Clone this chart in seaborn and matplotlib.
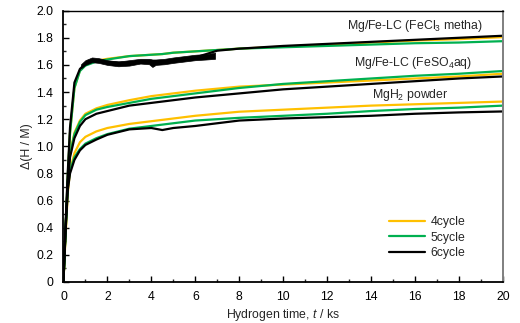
import numpy as np
import pandas as pd
import matplotlib
matplotlib.use("Agg")
import matplotlib.pyplot as plt
from matplotlib.ticker import MultipleLocator, FuncFormatter
import seaborn as sns

# Hydrogenation time grid (ks)
t = [0, 0.1, 0.2, 0.3, 0.5, 0.75, 1, 1.5, 2, 3, 4, 4.5, 5, 6, 7, 8, 10, 12, 14, 16, 18, 20]

# Mg/Fe-LC (FeCl3 metha)
fecl3_4 = [0, 0.40, 0.78, 1.10, 1.43, 1.56, 1.60, 1.63, 1.645, 1.665, 1.675, 1.68, 1.69, 1.70, 1.71, 1.72, 1.735, 1.75, 1.765, 1.78, 1.79, 1.805]
fecl3_5 = [0, 0.41, 0.79, 1.10, 1.43, 1.555, 1.595, 1.625, 1.64, 1.665, 1.675, 1.68, 1.69, 1.70, 1.71, 1.72, 1.73, 1.74, 1.75, 1.76, 1.765, 1.775]
fecl3_6 = [0, 0.44, 0.82, 1.14, 1.47, 1.57, 1.61, 1.635, 1.62, 1.615, 1.62, 1.625, 1.635, 1.655, 1.705, 1.72, 1.74, 1.755, 1.77, 1.785, 1.80, 1.815]

# Mg/Fe-LC (FeSO4aq)
feso4_4 = [0, 0.40, 0.74, 0.95, 1.10, 1.19, 1.24, 1.28, 1.305, 1.34, 1.37, 1.38, 1.39, 1.41, 1.425, 1.44, 1.455, 1.47, 1.485, 1.50, 1.515, 1.535]
feso4_5 = [0, 0.40, 0.74, 0.94, 1.09, 1.18, 1.23, 1.27, 1.29, 1.32, 1.35, 1.36, 1.37, 1.39, 1.41, 1.43, 1.46, 1.48, 1.50, 1.52, 1.535, 1.555]
feso4_6 = [0, 0.41, 0.74, 0.92, 1.06, 1.15, 1.20, 1.24, 1.26, 1.30, 1.32, 1.33, 1.34, 1.36, 1.375, 1.39, 1.42, 1.44, 1.46, 1.48, 1.50, 1.515]

# MgH2 powder
mgh2_4 = [0, 0.34, 0.66, 0.82, 0.95, 1.03, 1.07, 1.11, 1.135, 1.165, 1.185, 1.195, 1.205, 1.225, 1.24, 1.255, 1.27, 1.285, 1.30, 1.31, 1.32, 1.33]
mgh2_5 = [0, 0.38, 0.70, 0.82, 0.92, 0.98, 1.02, 1.06, 1.09, 1.13, 1.15, 1.16, 1.17, 1.19, 1.20, 1.21, 1.225, 1.24, 1.26, 1.275, 1.285, 1.30]
mgh2_6 = [0, 0.38, 0.68, 0.80, 0.90, 0.97, 1.01, 1.05, 1.085, 1.125, 1.135, 1.12, 1.135, 1.15, 1.17, 1.19, 1.205, 1.215, 1.225, 1.24, 1.25, 1.257]

# Scatter envelope of the 6th-cycle FeCl3 run during the early plateau
t_band = [0.8, 1.0, 1.3, 1.6, 2.0, 2.5, 3.0, 3.5, 3.9, 4.05, 4.2, 4.6, 5.0, 5.5, 6.0, 6.5, 6.9]
band_lo = [1.575, 1.60, 1.62, 1.615, 1.60, 1.59, 1.595, 1.61, 1.605, 1.585, 1.60, 1.605, 1.615, 1.625, 1.635, 1.64, 1.645]
band_hi = [1.605, 1.635, 1.655, 1.65, 1.635, 1.625, 1.635, 1.645, 1.645, 1.64, 1.64, 1.645, 1.655, 1.665, 1.675, 1.68, 1.69]

cycles = ["4cycle", "5cycle", "6cycle"]
colors = ["#FFC000", "#00B050", "#000000"]

series = {
    ("FeCl3", "4cycle"): fecl3_4, ("FeCl3", "5cycle"): fecl3_5, ("FeCl3", "6cycle"): fecl3_6,
    ("FeSO4", "4cycle"): feso4_4, ("FeSO4", "5cycle"): feso4_5, ("FeSO4", "6cycle"): feso4_6,
    ("MgH2", "4cycle"): mgh2_4, ("MgH2", "5cycle"): mgh2_5, ("MgH2", "6cycle"): mgh2_6,
}
rows = []
for (sample, cyc), vals in series.items():
    for ti, v in zip(t, vals):
        rows.append({"sample": f"{sample}-{cyc}", "cycle": cyc, "t": ti, "h": v})
df = pd.DataFrame(rows)

sns.set_style("ticks")
plt.rcParams["font.family"] = ["Liberation Sans", "DejaVu Sans"]
plt.rcParams["mathtext.fontset"] = "custom"
plt.rcParams["mathtext.rm"] = "Liberation Sans"
plt.rcParams["mathtext.it"] = "Liberation Sans:italic"
plt.rcParams["xtick.direction"] = "in"
plt.rcParams["ytick.direction"] = "in"

FS = 8.8

fig = plt.figure(figsize=(5.2, 3.23), dpi=100)
ax = fig.add_axes([0.122, 0.127, 0.845, 0.840])

sns.lineplot(data=df, x="t", y="h", hue="cycle", hue_order=cycles,
             palette=colors, units="sample", estimator=None, sort=False,
             linewidth=1.6, ax=ax)
ax.fill_between(t_band, band_lo, band_hi, color="black", linewidth=0.5, zorder=3)

ax.set_xlim(0, 20)
ax.set_ylim(0, 2.0)
ax.xaxis.set_major_locator(MultipleLocator(2))
ax.xaxis.set_minor_locator(MultipleLocator(1))
ax.yaxis.set_major_locator(MultipleLocator(0.2))
ax.yaxis.set_minor_locator(MultipleLocator(0.1))
ax.xaxis.set_major_formatter(FuncFormatter(lambda v, p: f"{v:.0f}"))
ax.yaxis.set_major_formatter(FuncFormatter(lambda v, p: "0" if abs(v) < 1e-9 else f"{v:.1f}"))
ax.tick_params(which="major", length=4, width=1, labelsize=FS, colors="black")
ax.tick_params(which="minor", length=2.5, width=1)
ax.tick_params(axis="x", which="major", pad=6.5)
ax.tick_params(axis="y", which="major", pad=7.5)

for side in ["left", "bottom"]:
    ax.spines[side].set_color("black")
    ax.spines[side].set_linewidth(1.3)
ax.spines["top"].set_visible(True)
ax.spines["top"].set_color("black")
ax.spines["top"].set_linewidth(1.0)
ax.spines["right"].set_visible(True)
ax.spines["right"].set_color("#7f7f7f")
ax.spines["right"].set_linewidth(1.4)

ax.set_xlabel("Hydrogen time, $t$ / ks", fontsize=FS, labelpad=3)
ax.set_ylabel("Δ(H / M)", fontsize=FS, labelpad=2)

ax.text(16.0, 1.885, "Mg/Fe-LC (FeCl$_3$ metha)", fontsize=FS, ha="center", va="center")
ax.text(15.9, 1.616, "Mg/Fe-LC (FeSO$_4$aq)", fontsize=FS, ha="center", va="center")
ax.text(15.8, 1.38, "MgH$_2$ powder", fontsize=FS, ha="center", va="center")

handles, labels = ax.get_legend_handles_labels()
ax.legend(handles, labels, loc="upper left", bbox_to_anchor=(0.74, 0.243),
          frameon=False, fontsize=FS, handlelength=3.0, handletextpad=0.45,
          labelspacing=0.3, borderpad=0, borderaxespad=0)

fig.savefig("out.png", dpi=100)
